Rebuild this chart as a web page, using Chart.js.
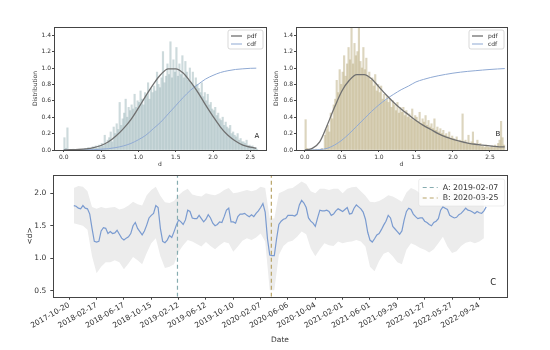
<!DOCTYPE html>
<html>
<head>
<meta charset="utf-8">
<script src="https://cdn.jsdelivr.net/npm/chart.js@4.4.0/dist/chart.umd.min.js"></script>
<style>
  body { margin: 0; background: #fff; width: 550px; height: 350px; position: relative; overflow: hidden; }
  canvas { position: absolute; }
</style>
</head>
<body>
<canvas id="chartA" width="272" height="175" style="left:0;top:0"></canvas>
<canvas id="chartB" width="288" height="175" style="left:262px;top:0"></canvas>
<canvas id="chartC" width="550" height="185" style="left:0;top:165px"></canvas>
<script>
// --- data: distributions A and B ---
const HIST_BIN = 0.02;
const histA = [0.15,0.02,0.27,0.00,0.00, 0.00,0.01,0.00,0.00,0.00, 0.01,0.00,0.01,0.00,0.02,
  0.01,0.03,0.00,0.02,0.04, 0.03,0.05,0.02,0.06,0.04, 0.08,0.05,0.18,0.07,0.12,
  0.15,0.22,0.10,0.28,0.20, 0.32,0.25,0.58,0.30,0.38, 0.45,0.62,0.40,0.52,0.48,
  0.55,0.50,0.68,0.52,0.60, 0.58,0.72,0.62,0.55,0.70, 0.66,0.82,0.62,0.75,0.70,
  0.78,0.72,0.95,0.80,0.76, 0.88,1.20,0.82,0.90,1.05, 0.92,1.32,0.88,1.10,0.95,
  1.25,0.90,1.05,0.92,1.15, 0.88,1.08,0.95,0.85,1.00, 0.82,0.95,0.78,0.88,0.80,
  0.75,0.70,0.82,0.65,0.70, 0.60,0.68,0.55,0.58,0.50, 0.48,0.52,0.42,0.45,0.38,
  0.36,0.40,0.30,0.34,0.28, 0.26,0.30,0.20,0.22,0.18, 0.16,0.20,0.12,0.14,0.10,
  0.10,0.08,0.12,0.05,0.06, 0.04,0.05,0.02,0.03,0.01];
const histB = [0.37,0.02,0.00,0.00,0.00, 0.00,0.00,0.01,0.00,0.00, 0.01,0.02,0.00,0.18,0.25,
  0.30,0.22,0.45,0.38,0.55, 0.62,0.85,0.70,0.98,0.80, 0.95,1.15,0.90,1.05,1.25,
  1.10,1.50,1.05,1.30,1.15, 1.20,1.50,1.08,1.00,1.25, 0.98,1.12,0.90,0.95,0.85,
  0.88,0.78,0.92,0.72,0.80, 0.70,0.78,0.62,0.68,0.60, 0.65,0.58,0.62,0.52,0.60,
  0.55,0.48,0.58,0.45,0.52, 0.46,0.52,0.42,0.48,0.40, 0.44,0.38,0.50,0.36,0.42,
  0.40,0.35,0.46,0.32,0.38, 0.34,0.42,0.30,0.36,0.28, 0.32,0.26,0.38,0.24,0.28,
  0.22,0.26,0.20,0.24,0.18, 0.20,0.16,0.22,0.14,0.17, 0.14,0.12,0.16,0.10,0.12,
  0.11,0.44,0.09,0.12,0.08, 0.18,0.07,0.10,0.22,0.08, 0.06,0.12,0.05,0.08,0.04,
  0.05,0.03,0.06,0.04,0.03, 0.04,0.05,0.03,0.06,0.04, 0.08,0.12,0.35,0.15,0.06];

const curveXA = [0.0,0.1,0.2,0.3,0.4,0.5,0.6,0.7,0.8,0.9,1.0,1.1,1.2,1.3,1.4,1.5,1.6,1.7,1.8,1.9,2.0,2.1,2.2,2.3,2.4,2.5,2.58];
const pdfA = [0.002,0.003,0.007,0.015,0.03,0.055,0.10,0.17,0.26,0.37,0.51,0.66,0.80,0.92,0.99,0.99,0.94,0.83,0.70,0.55,0.41,0.28,0.18,0.11,0.06,0.035,0.02];
const cdfA = [0,0.0002,0.0005,0.001,0.004,0.01,0.016,0.03,0.05,0.08,0.125,0.18,0.26,0.34,0.44,0.54,0.64,0.73,0.80,0.865,0.91,0.945,0.967,0.982,0.99,0.996,0.998];

const curveXB = [0.0,0.1,0.2,0.3,0.4,0.5,0.6,0.7,0.8,0.9,1.0,1.1,1.2,1.3,1.4,1.5,1.6,1.7,1.8,1.9,2.0,2.1,2.2,2.3,2.4,2.5,2.6,2.7];
const pdfB = [0.0,0.02,0.10,0.30,0.52,0.72,0.85,0.92,0.92,0.87,0.77,0.67,0.58,0.50,0.43,0.36,0.30,0.25,0.20,0.16,0.13,0.105,0.085,0.07,0.06,0.05,0.042,0.037];
const cdfB = [0,0.001,0.005,0.02,0.06,0.12,0.20,0.29,0.38,0.47,0.55,0.62,0.68,0.735,0.78,0.83,0.86,0.885,0.905,0.922,0.937,0.949,0.959,0.967,0.975,0.982,0.988,0.993];

const distTicksX = [0.0, 0.5, 1.0, 1.5, 2.0, 2.5];
const distTicksY = [0.0, 0.2, 0.4, 0.6, 0.8, 1.0, 1.2, 1.4];

// --- data: time series C ---
const LINE_START = '2017-11-09';
const LINE_STEP_DAYS = 10;
const meanD = [1.81,1.80,1.77,1.76,1.81,1.77,1.76,1.68,1.46,1.26,
  1.25,1.26,1.42,1.47,1.46,1.38,1.41,1.38,1.39,1.43,
  1.37,1.31,1.28,1.31,1.33,1.38,1.50,1.55,1.46,1.41,
  1.36,1.42,1.51,1.62,1.66,1.69,1.81,1.78,1.46,1.26,
  1.24,1.28,1.35,1.32,1.41,1.51,1.59,1.56,1.52,1.59,
  1.74,1.72,1.62,1.61,1.61,1.66,1.61,1.56,1.60,1.67,
  1.62,1.54,1.50,1.52,1.56,1.55,1.64,1.74,1.77,1.56,
  1.56,1.54,1.64,1.68,1.68,1.69,1.66,1.64,1.67,1.64,
  1.69,1.73,1.78,1.84,1.71,1.30,1.05,1.04,1.04,1.30,
  1.52,1.57,1.60,1.61,1.66,1.66,1.66,1.65,1.68,1.82,
  1.89,1.85,1.78,1.62,1.57,1.54,1.49,1.62,1.74,1.73,
  1.73,1.74,1.72,1.66,1.68,1.73,1.76,1.74,1.72,1.75,
  1.78,1.68,1.69,1.77,1.82,1.79,1.76,1.71,1.60,1.40,
  1.28,1.25,1.30,1.36,1.38,1.44,1.51,1.57,1.66,1.62,
  1.49,1.45,1.41,1.37,1.42,1.59,1.72,1.77,1.75,1.68,
  1.64,1.61,1.62,1.62,1.57,1.55,1.52,1.50,1.55,1.57,
  1.61,1.74,1.79,1.77,1.75,1.66,1.64,1.62,1.63,1.67,
  1.69,1.73,1.77,1.74,1.73,1.71,1.69,1.72,1.70,1.69,
  1.73,1.79];
const BAND_STEP_DAYS = 20;
const bandUpper = [2.08,2.11,2.10,2.03,1.79,1.76,1.79,1.77,1.78,1.79,
  1.75,1.77,1.81,1.87,1.83,1.81,1.97,2.05,2.10,1.96,
  1.86,1.85,1.88,1.97,2.03,2.07,1.98,1.96,1.95,2.00,
  1.98,1.97,2.00,2.05,2.08,2.00,2.01,2.03,2.05,2.03,
  2.05,2.10,2.08,1.61,1.61,2.00,2.03,2.07,2.08,2.13,
  2.18,2.14,2.03,2.00,2.07,2.07,2.05,2.07,2.07,2.00,
  2.07,2.09,2.10,2.03,1.96,1.87,1.86,1.88,1.92,1.97,
  1.95,1.91,1.87,2.01,2.08,2.05,2.00,1.93,1.90,1.90,
  2.00,2.13,2.10,2.03,2.00,2.05,2.09,2.10,2.03,2.03,2.07];
const bandLower = [1.54,1.52,1.50,1.44,1.03,0.77,0.87,0.94,0.94,0.97,
  0.94,0.83,0.92,1.02,0.97,0.91,1.08,1.23,1.31,1.03,
  0.85,0.87,0.91,1.10,1.20,1.28,1.26,1.22,1.18,1.25,
  1.19,1.14,1.20,1.25,1.23,1.10,1.18,1.27,1.31,1.28,
  1.32,1.38,1.26,0.51,0.51,1.05,1.19,1.25,1.27,1.33,
  1.41,1.37,1.15,1.03,1.14,1.23,1.20,1.19,1.26,1.23,
  1.25,1.26,1.28,1.26,1.18,0.87,0.80,0.96,1.07,1.10,
  1.03,0.94,0.91,1.13,1.23,1.20,1.16,1.13,1.09,1.14,
  1.23,1.33,1.18,1.08,1.11,1.19,1.24,1.26,1.23,1.26,1.31];

const dateTicks = ['2017-10-20','2018-02-17','2018-06-17','2018-10-15','2019-02-12','2019-06-12',
  '2019-10-10','2020-02-07','2020-06-06','2020-10-04','2021-02-01','2021-06-01',
  '2021-09-29','2022-01-27','2022-05-27','2022-09-24'];
const markerA = '2019-02-07';
const markerB = '2020-03-25';
const seriesTicksY = [0.5, 1.0, 1.5, 2.0];
const C_X_MIN = '2017-08-11', C_X_MAX = '2023-01-22';
const C_Y_MIN = 0.41, C_Y_MAX = 2.28;

// ---------------------------------------------------------------
Chart.defaults.font.family = "'DejaVu Sans', sans-serif";
Chart.defaults.color = '#333';

const FRAME = '#444';

function dayNum(s) { return Date.parse(s) / 86400000; }

// frame on all four sides, legend box and panel letter
const decorPlugin = {
  id: 'decor',
  afterDraw(chart, args, o) {
    const ctx = chart.ctx, a = chart.chartArea;
    ctx.save();
    ctx.strokeStyle = FRAME;
    ctx.lineWidth = 1;
    const l = Math.round(a.left) + 0.5, r = Math.round(a.right) + 0.5;
    const t = Math.round(a.top) + 0.5, b = Math.round(a.bottom) + 0.5;
    ctx.strokeRect(l, t, r - l, b - t);

    if (o.legend) {
      const g = o.legend;
      const bx = a.right - g.right - g.w, by = a.top + g.top;
      ctx.beginPath();
      if (ctx.roundRect) ctx.roundRect(bx, by, g.w, g.h, 2); else ctx.rect(bx, by, g.w, g.h);
      ctx.fillStyle = 'rgba(255,255,255,0.85)';
      ctx.fill();
      ctx.strokeStyle = g.border;
      ctx.lineWidth = 0.8;
      ctx.stroke();
      ctx.font = g.size + "px 'DejaVu Sans'";
      ctx.textBaseline = 'middle';
      ctx.textAlign = 'left';
      g.items.forEach((it, i) => {
        const y = by + g.first + i * g.row;
        ctx.strokeStyle = it.color;
        ctx.lineWidth = it.width;
        ctx.setLineDash(it.dash || []);
        ctx.beginPath();
        ctx.moveTo(bx + g.lx0, y);
        ctx.lineTo(bx + g.lx1, y);
        ctx.stroke();
        ctx.setLineDash([]);
        ctx.fillStyle = '#333';
        ctx.fillText(it.label, bx + g.tx, y);
      });
    }
    if (o.letter) {
      ctx.font = o.letterSize + "px 'DejaVu Sans'";
      ctx.fillStyle = '#222';
      ctx.textAlign = 'center';
      ctx.textBaseline = 'middle';
      ctx.fillText(o.letter, a.right + o.letterDx, a.bottom + o.letterDy);
    }
    ctx.restore();
  }
};

function distChart(id, o) {
  const tickFont = { size: 6 };
  return new Chart(document.getElementById(id), {
    type: 'bar',
    data: {
      datasets: [
        {
          type: 'line', label: 'pdf',
          data: o.cx.map((x, i) => ({ x: x, y: o.pdf[i] })),
          borderColor: '#707070', borderWidth: 1.3, pointRadius: 0,
          cubicInterpolationMode: 'monotone', fill: false
        },
        {
          type: 'line', label: 'cdf',
          data: o.cx.map((x, i) => ({ x: x, y: o.cdf[i] })),
          borderColor: '#8fa9d3', borderWidth: 1, pointRadius: 0,
          cubicInterpolationMode: 'monotone', fill: false
        },
        {
          label: 'hist',
          data: o.hist.map((h, k) => ({ x: (k + 0.5) * HIST_BIN, y: h })),
          backgroundColor: o.histColor, borderWidth: 0,
          barPercentage: 1, categoryPercentage: 1
        }
      ]
    },
    options: {
      responsive: false,
      animation: false,
      layout: { padding: o.pad },
      plugins: {
        legend: { display: false },
        tooltip: { enabled: false },
        decor: {
          letter: o.letter, letterSize: 7, letterDx: o.letterDx, letterDy: o.letterDy,
          legend: {
            right: 3, top: 3, w: 35, h: 19, first: 6, row: 8,
            lx0: 3, lx1: 14, tx: 19, size: 6, border: '#cfcfcf',
            items: [
              { label: 'pdf', color: '#707070', width: 1.3 },
              { label: 'cdf', color: '#8fa9d3', width: 1 }
            ]
          }
        }
      },
      scales: {
        x: {
          type: 'linear', min: o.xMin, max: o.xMax, offset: false,
          grid: { display: true, drawOnChartArea: false, drawTicks: true, tickLength: 2, color: FRAME, offset: false },
          border: { display: false },
          ticks: { font: tickFont, color: '#333', padding: 1.5, maxRotation: 0, callback: v => v.toFixed(1) },
          afterBuildTicks: s => { s.ticks = distTicksX.map(v => ({ value: v })); },
          afterFit: s => { s.height = 22; },
          title: { display: true, text: 'd', font: { size: 6 }, color: '#333', padding: { top: 4, bottom: 4 } }
        },
        y: {
          min: 0, max: 1.5,
          grid: { display: true, drawOnChartArea: false, drawTicks: true, tickLength: 2, color: FRAME },
          border: { display: false },
          ticks: { font: tickFont, color: '#333', padding: 1, callback: v => v.toFixed(1) },
          afterBuildTicks: s => { s.ticks = distTicksY.map(v => ({ value: v })); },
          afterFit: s => { s.width = o.yWidth; },
          title: { display: true, text: 'Distribution', font: { size: 6 }, color: '#333', padding: { top: 4, bottom: 4 } }
        }
      }
    },
    plugins: [decorPlugin]
  });
}

distChart('chartA', {
  hist: histA, cx: curveXA, pdf: pdfA, cdf: cdfA,
  histColor: 'rgba(150,178,182,0.48)',
  xMin: -0.13, xMax: 2.71,
  pad: { left: 28, top: 27, right: 6, bottom: 3 }, yWidth: 26,
  letter: 'A', letterDx: -9, letterDy: -14
});

distChart('chartB', {
  hist: histB, cx: curveXB, pdf: pdfB, cdf: cdfB,
  histColor: 'rgba(185,172,125,0.5)',
  xMin: -0.12, xMax: 2.73,
  pad: { left: 7, top: 27, right: 43, bottom: 3 }, yWidth: 27,
  letter: 'B', letterDx: -9, letterDy: -16
});

// --- panel C ---
const lineStartDay = dayNum(LINE_START);
const dateTickDays = dateTicks.map(dayNum);
const colA = '#86acb0', colB = '#b8a468';

new Chart(document.getElementById('chartC'), {
  type: 'line',
  data: {
    datasets: [
      {
        label: 'mean',
        data: meanD.map((v, i) => ({ x: lineStartDay + i * LINE_STEP_DAYS, y: v })),
        borderColor: '#7a9bd0', borderWidth: 1.2, pointRadius: 0, tension: 0, fill: false
      },
      {
        label: 'A: ' + markerA,
        data: [{ x: dayNum(markerA), y: C_Y_MIN }, { x: dayNum(markerA), y: C_Y_MAX }],
        borderColor: colA, borderWidth: 1.2, borderDash: [4, 3], pointRadius: 0, fill: false
      },
      {
        label: 'B: ' + markerB,
        data: [{ x: dayNum(markerB), y: C_Y_MIN }, { x: dayNum(markerB), y: C_Y_MAX }],
        borderColor: colB, borderWidth: 1.2, borderDash: [4, 3], pointRadius: 0, fill: false
      },
      {
        label: 'lower',
        data: bandLower.map((v, j) => ({ x: lineStartDay + j * BAND_STEP_DAYS, y: v })),
        borderColor: 'rgba(0,0,0,0)', pointRadius: 0, tension: 0, fill: false
      },
      {
        label: 'upper',
        data: bandUpper.map((v, j) => ({ x: lineStartDay + j * BAND_STEP_DAYS, y: v })),
        borderColor: 'rgba(0,0,0,0)', backgroundColor: '#ececec', pointRadius: 0, tension: 0, fill: '-1'
      }
    ]
  },
  options: {
    responsive: false,
    animation: false,
    layout: { padding: { left: 21.5, top: 10, right: 43.3, bottom: 1.5 } },
    plugins: {
      legend: { display: false },
      tooltip: { enabled: false },
      decor: {
        letter: 'C', letterSize: 8.5, letterDx: -13.5, letterDy: -13.5,
        legend: {
          right: 2, top: 4, w: 86, h: 27, first: 8.5, row: 10.5,
          lx0: 4, lx1: 19, tx: 24, size: 7.8, border: 'rgba(220,220,220,0.6)',
          items: [
            { label: 'A: ' + markerA, color: colA, width: 1.2, dash: [4, 3] },
            { label: 'B: ' + markerB, color: colB, width: 1.2, dash: [4, 3] }
          ]
        }
      }
    },
    scales: {
      x: {
        type: 'linear', min: dayNum(C_X_MIN), max: dayNum(C_X_MAX),
        grid: { display: true, drawOnChartArea: false, drawTicks: true, tickLength: 3, color: FRAME },
        border: { display: false },
        ticks: {
          font: { size: 7.5 }, color: '#333', padding: 1,
          minRotation: 30, maxRotation: 30, autoSkip: false,
          callback: (v, i) => dateTicks[i]
        },
        afterBuildTicks: s => { s.ticks = dateTickDays.map(v => ({ value: v })); },
        afterFit: s => { s.height = 51.8; },
        title: { display: true, text: 'Date', font: { size: 7.5 }, color: '#333', padding: { top: 4, bottom: 4 } }
      },
      y: {
        min: C_Y_MIN, max: C_Y_MAX,
        grid: { display: true, drawOnChartArea: false, drawTicks: true, tickLength: 3, color: FRAME },
        border: { display: false },
        ticks: { font: { size: 7.5 }, color: '#333', padding: 4, callback: v => v.toFixed(1) },
        afterBuildTicks: s => { s.ticks = seriesTicksY.map(v => ({ value: v })); },
        afterFit: s => { s.width = 31.8; },
        title: { display: true, text: '<d>', font: { size: 7.5 }, color: '#333', padding: { top: 4, bottom: 4 } }
      }
    }
  },
  plugins: [decorPlugin]
});
</script>
</body>
</html>
